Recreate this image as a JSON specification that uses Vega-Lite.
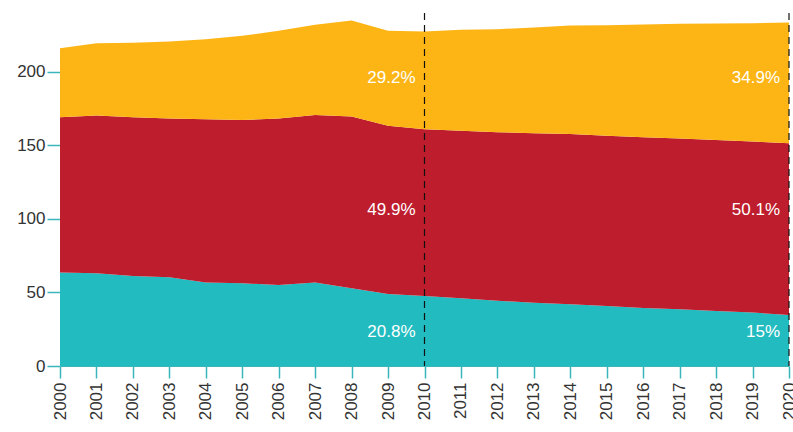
{
  "$schema": "https://vega.github.io/schema/vega-lite/v6.json",
  "width": 729,
  "height": 353,
  "autosize": {"type": "none"},
  "padding": {"left": 60, "top": 13, "right": 4, "bottom": 66},
  "background": "white",
  "config": {"view": {"stroke": null}},
  "datasets": {
    "series": [
      {"year": 2000, "band": "Bottom", "value": 63.5},
      {"year": 2001, "band": "Bottom", "value": 63.0},
      {"year": 2002, "band": "Bottom", "value": 61.2},
      {"year": 2003, "band": "Bottom", "value": 60.3},
      {"year": 2004, "band": "Bottom", "value": 56.7},
      {"year": 2005, "band": "Bottom", "value": 56.2},
      {"year": 2006, "band": "Bottom", "value": 55.1},
      {"year": 2007, "band": "Bottom", "value": 56.7},
      {"year": 2008, "band": "Bottom", "value": 52.8},
      {"year": 2009, "band": "Bottom", "value": 49.0},
      {"year": 2010, "band": "Bottom", "value": 47.6},
      {"year": 2011, "band": "Bottom", "value": 46.0},
      {"year": 2012, "band": "Bottom", "value": 44.4},
      {"year": 2013, "band": "Bottom", "value": 43.0},
      {"year": 2014, "band": "Bottom", "value": 41.9},
      {"year": 2015, "band": "Bottom", "value": 40.8},
      {"year": 2016, "band": "Bottom", "value": 39.5},
      {"year": 2017, "band": "Bottom", "value": 38.6},
      {"year": 2018, "band": "Bottom", "value": 37.4},
      {"year": 2019, "band": "Bottom", "value": 36.3},
      {"year": 2020, "band": "Bottom", "value": 34.7},
      {"year": 2000, "band": "Middle", "value": 105.7},
      {"year": 2001, "band": "Middle", "value": 107.3},
      {"year": 2002, "band": "Middle", "value": 108.0},
      {"year": 2003, "band": "Middle", "value": 107.9},
      {"year": 2004, "band": "Middle", "value": 111.1},
      {"year": 2005, "band": "Middle", "value": 111.1},
      {"year": 2006, "band": "Middle", "value": 113.1},
      {"year": 2007, "band": "Middle", "value": 114.0},
      {"year": 2008, "band": "Middle", "value": 116.8},
      {"year": 2009, "band": "Middle", "value": 114.3},
      {"year": 2010, "band": "Middle", "value": 113.4},
      {"year": 2011, "band": "Middle", "value": 114.0},
      {"year": 2012, "band": "Middle", "value": 114.6},
      {"year": 2013, "band": "Middle", "value": 115.2},
      {"year": 2014, "band": "Middle", "value": 115.9},
      {"year": 2015, "band": "Middle", "value": 115.7},
      {"year": 2016, "band": "Middle", "value": 116.0},
      {"year": 2017, "band": "Middle", "value": 116.0},
      {"year": 2018, "band": "Middle", "value": 116.3},
      {"year": 2019, "band": "Middle", "value": 116.3},
      {"year": 2020, "band": "Middle", "value": 116.8},
      {"year": 2000, "band": "Top", "value": 46.9},
      {"year": 2001, "band": "Top", "value": 49.2},
      {"year": 2002, "band": "Top", "value": 50.5},
      {"year": 2003, "band": "Top", "value": 52.4},
      {"year": 2004, "band": "Top", "value": 54.4},
      {"year": 2005, "band": "Top", "value": 57.2},
      {"year": 2006, "band": "Top", "value": 59.7},
      {"year": 2007, "band": "Top", "value": 61.3},
      {"year": 2008, "band": "Top", "value": 65.3},
      {"year": 2009, "band": "Top", "value": 64.6},
      {"year": 2010, "band": "Top", "value": 66.4},
      {"year": 2011, "band": "Top", "value": 68.6},
      {"year": 2012, "band": "Top", "value": 70.0},
      {"year": 2013, "band": "Top", "value": 71.9},
      {"year": 2014, "band": "Top", "value": 73.7},
      {"year": 2015, "band": "Top", "value": 75.1},
      {"year": 2016, "band": "Top", "value": 76.7},
      {"year": 2017, "band": "Top", "value": 78.1},
      {"year": 2018, "band": "Top", "value": 79.2},
      {"year": 2019, "band": "Top", "value": 80.5},
      {"year": 2020, "band": "Top", "value": 82.0}
    ],
    "labels": [
      {"year": 2010, "pos": 195.6, "label": "29.2%"},
      {"year": 2010, "pos": 106, "label": "49.9%"},
      {"year": 2010, "pos": 23.3, "label": "20.8%"},
      {"year": 2020, "pos": 195.6, "label": "34.9%"},
      {"year": 2020, "pos": 106, "label": "50.1%"},
      {"year": 2020, "pos": 23.3, "label": "15%"}
    ],
    "markers": [
      {"year": 2010},
      {"year": 2020}
    ]
  },
  "encoding": {
    "x": {
      "field": "year", "type": "quantitative",
      "scale": {"domain": [2000, 2020], "nice": false, "zero": false},
      "axis": {
        "title": null,
        "values": [2000,2001,2002,2003,2004,2005,2006,2007,2008,2009,2010,2011,2012,2013,2014,2015,2016,2017,2018,2019,2020],
        "tickCount": 21,
        "format": "d",
        "labelAngle": -90,
        "labelAlign": "right",
        "labelBaseline": "middle",
        "labelFont": "Liberation Sans",
        "labelFontSize": 17,
        "labelColor": "#333333",
        "labelPadding": 4,
        "labelOverlap": false,
        "labelBound": false,
        "labelFlush": false,
        "tickColor": "#3ab6b9",
        "tickSize": 12,
        "tickWidth": 1.5,
        "domain": true,
        "domainColor": "#3ab6b9",
        "grid": false
      }
    }
  },
  "layer": [
    {
      "data": {"name": "series"},
      "mark": {"type": "area", "interpolate": "linear"},
      "encoding": {
        "y": {
          "field": "value", "type": "quantitative",
          "stack": "zero",
          "scale": {"domain": [0, 240], "nice": false},
          "axis": {
            "title": null,
            "values": [0, 50, 100, 150, 200],
            "labelFont": "Liberation Sans",
            "labelFontSize": 17,
            "labelColor": "#333333",
            "labelPadding": 2,
            "tickColor": "#3ab6b9",
            "tickSize": 13,
            "tickWidth": 1.5,
            "domain": false,
            "grid": false
          }
        },
        "color": {
          "field": "band", "type": "nominal",
          "sort": ["Bottom", "Middle", "Top"],
          "scale": {"domain": ["Bottom", "Middle", "Top"], "range": ["#22bcc0", "#be1d2d", "#fdb515"]},
          "legend": null
        },
        "order": {"field": "band", "sort": "ascending"}
      }
    },
    {
      "data": {"name": "markers"},
      "mark": {"type": "rule", "color": "#111111", "strokeWidth": 1.2, "strokeDash": [7, 5]},
      "encoding": {}
    },
    {
      "data": {"name": "labels"},
      "mark": {"type": "text", "color": "white", "align": "right", "baseline": "middle", "dx": -9, "font": "Liberation Sans", "fontSize": 17},
      "encoding": {
        "y": {"field": "pos", "type": "quantitative"},
        "text": {"field": "label"}
      }
    }
  ]
}
